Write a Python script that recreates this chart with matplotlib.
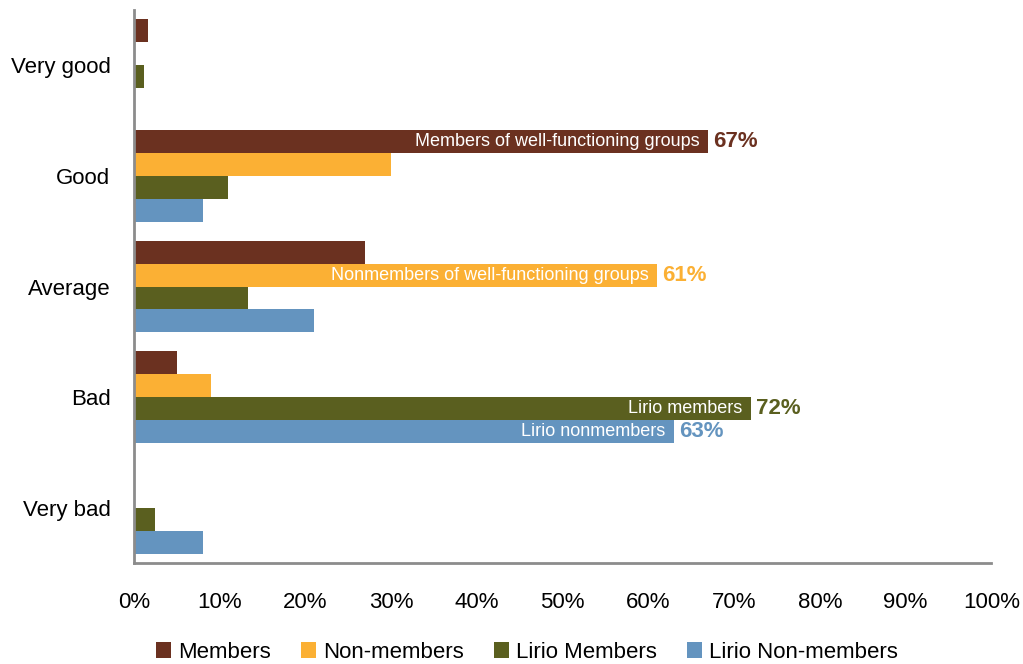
import numpy as np
import matplotlib
matplotlib.use("Agg")
import matplotlib.pyplot as plt
from matplotlib import font_manager

categories = ["Very good", "Good", "Average", "Bad", "Very bad"]
series = ["Members", "Non-members", "Lirio Members", "Lirio Non-members"]
members = [1.6, 67, 27, 5, 0]
non_members = [0, 30, 61, 9, 0]
lirio_members = [1.2, 11, 13.3, 72, 2.4]
lirio_non_members = [0, 8, 21, 63, 8]
colors = ["#6B3120", "#FBB034", "#5A5F1F", "#6494BF"]

# (series index, category index, inside label)
notes = [
    (0, 1, "Members of well-functioning groups"),
    (1, 2, "Nonmembers of well-functioning groups"),
    (2, 3, "Lirio members"),
    (3, 3, "Lirio nonmembers"),
]

names = {f.name for f in font_manager.fontManager.ttflist}
fam = "Liberation Sans Narrow" if "Liberation Sans Narrow" in names else "Liberation Sans"
plt.rcParams['font.family'] = [fam, 'DejaVu Sans']

fig = plt.figure(figsize=(10.23, 6.64), dpi=100)
ax = fig.add_axes([0.131, 0.152, 0.838, 0.833])

data = [members, non_members, lirio_members, lirio_non_members]
h = 0.207
y = np.arange(len(categories))
for i, vals in enumerate(data):
    off = (i - 1.5) * h
    ax.barh(y + off, vals, height=h, color=colors[i], label=series[i])

for si, ci, txt in notes:
    v = data[si][ci]
    yy = ci + (si - 1.5) * h
    ax.text(v - 1, yy, txt, ha="right", va="center", color="white", fontsize=13)
    ax.text(v + 0.6, yy, f"{v:.0f}%", ha="left", va="center", color=colors[si],
            fontsize=16, fontweight="bold")

ax.set_ylim(4.5, -0.5)
ax.set_xlim(0, 100)
ax.set_yticks(y)
ax.set_yticklabels(categories, fontsize=16)
ax.set_xticks(np.arange(0, 101, 10))
ax.set_xticklabels([f"{t}%" for t in range(0, 101, 10)], fontsize=16)
ax.tick_params(axis="y", length=0, pad=17)
ax.tick_params(axis="x", length=0, pad=21)
for s in ["top", "right"]:
    ax.spines[s].set_visible(False)
for s in ["left", "bottom"]:
    ax.spines[s].set_color("#8C8C8C")
    ax.spines[s].set_linewidth(2)

fig.legend(loc="lower center", bbox_to_anchor=(0.515, -0.028), ncol=4, frameon=False,
           fontsize=16, handlelength=0.7, handleheight=0.7, handletextpad=0.3,
           columnspacing=1.35)

fig.savefig("out.png", dpi=100)
